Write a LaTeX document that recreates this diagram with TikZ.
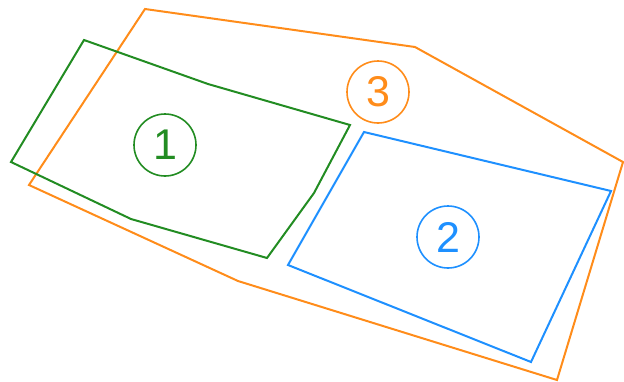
\documentclass[tikz,border=0pt]{standalone}
\usepackage{fontspec}
\setmainfont{Liberation Sans}
\definecolor{cgreen}{RGB}{34,140,34}
\definecolor{corange}{RGB}{255,140,26}
\definecolor{cblue}{RGB}{30,144,255}
\begin{document}
\begin{tikzpicture}[x=1pt,y=-1pt,
  poly/.style={line width=2pt,line join=miter},
  lbl/.style={circle,draw,line width=1.6pt,minimum size=62pt,inner sep=0pt,font=\fontsize{43}{43}\selectfont}]
\useasboundingbox (0,0) rectangle (624,381);
\draw[poly,corange] (145,9) -- (415,47) -- (623,162) -- (557,380) -- (238,281) -- (29,185) -- cycle;
\draw[poly,cgreen] (84,40) -- (208,84) -- (350,125) -- (314,193) -- (267,258) -- (131,219) -- (11,162) -- cycle;
\draw[poly,cblue] (364,132) -- (611,191) -- (531,362) -- (288,265) -- cycle;
\node[lbl,draw=cgreen,text=cgreen] (n1) at (165,145) {1};
\node[lbl,draw=corange,text=corange] (n3) at (378,92) {3};
\node[lbl,draw=cblue,text=cblue] (n2) at (448,237) {2};
\end{tikzpicture}
\end{document}
